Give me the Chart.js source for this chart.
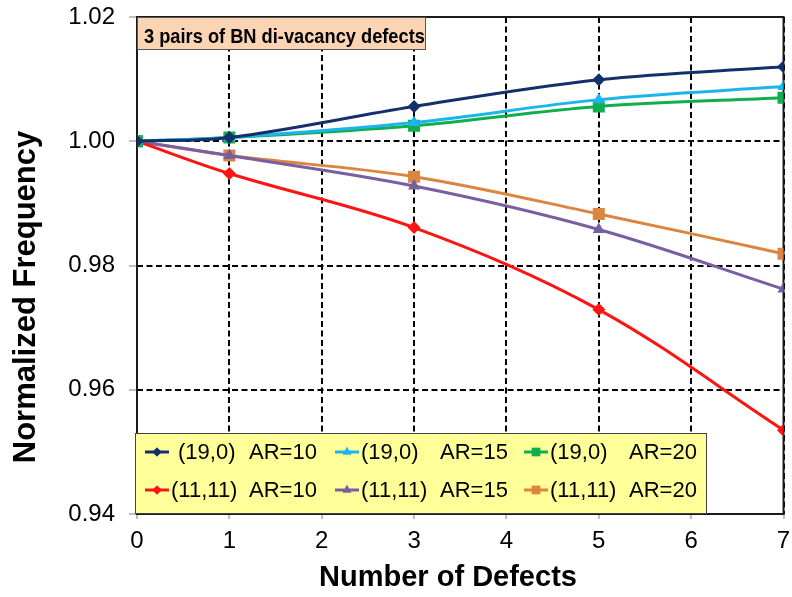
<!DOCTYPE html>
<html>
<head>
<meta charset="utf-8">
<script src="https://cdn.jsdelivr.net/npm/chart.js@4.4.1/dist/chart.umd.min.js"></script>
<style>
  html, body { margin: 0; padding: 0; background: #fff; }
  #wrap { width: 792px; height: 597px; }
</style>
</head>
<body>
<div id="wrap"><canvas id="freqChart" width="792" height="597"></canvas></div>
<script>
// number of defects sampled
const defects = [0, 1, 3, 5, 7];

// normalized frequency per tube / aspect ratio
const zigzagAR10 = [1.0000, 1.0006, 1.0056, 1.0099, 1.0120];
const zigzagAR15 = [1.0000, 1.0006, 1.0030, 1.0067, 1.0088];
const zigzagAR20 = [1.0000, 1.0006, 1.0025, 1.0056, 1.0070];
const armchairAR10 = [1.0000, 0.9948, 0.9861, 0.9729, 0.9535];
const armchairAR15 = [1.0000, 0.9977, 0.9928, 0.9858, 0.9762];
const armchairAR20 = [1.0000, 0.9977, 0.9943, 0.9883, 0.9819];

const seriesLabels = [
  "(19,0) AR=10", "(19,0) AR=15", "(19,0) AR=20",
  "(11,11) AR=10", "(11,11) AR=15", "(11,11) AR=20"
];
const yTicks = [0.94, 0.96, 0.98, 1.00, 1.02];
const xTicks = [0, 1, 2, 3, 4, 5, 6, 7];

const captionText = "3 pairs of BN di-vacancy defects";
const xTitle = "Number of Defects";
const yTitle = "Normalized Frequency";

const FONT = "'Liberation Sans', Arial, sans-serif";

function pts(values) {
  return values.map((v, i) => ({ x: defects[i], y: v }));
}

function series(label, values, color, style, radius) {
  return {
    label,
    data: pts(values),
    borderColor: color,
    backgroundColor: color,
    borderWidth: 3,
    pointStyle: style,
    pointRadius: radius,
    pointHoverRadius: radius,
    pointBorderWidth: 0,
    tension: 0.35
  };
}

// frame, caption, axis titles and legend box
const boxes = {
  id: "boxes",
  beforeDatasetsDraw(chart) {
    const { ctx, chartArea: a } = chart;
    ctx.save();
    ctx.strokeStyle = "#1a1a1a";
    ctx.lineWidth = 2;
    ctx.strokeRect(a.left, a.top, a.right - a.left, a.bottom - a.top);
    ctx.restore();
  },
  afterDraw(chart) {
    const { ctx, chartArea: a } = chart;
    ctx.save();

    // axis titles
    ctx.fillStyle = "#000";
    ctx.textAlign = "center";
    ctx.textBaseline = "middle";
    ctx.font = "bold 29px " + FONT;
    ctx.fillText(xTitle, 448, 578);
    ctx.save();
    ctx.translate(26, 297);
    ctx.rotate(-Math.PI / 2);
    ctx.font = "bold 31px " + FONT;
    ctx.fillText(yTitle, 0, 0);
    ctx.restore();

    // caption
    ctx.fillStyle = "#fbd4b4";
    ctx.fillRect(a.left, a.top, 288, 32);
    ctx.strokeStyle = "#555";
    ctx.lineWidth = 1;
    ctx.strokeRect(a.left + 0.5, a.top + 0.5, 288, 32);
    ctx.save();
    ctx.translate(a.left + 7, a.top + 26);
    ctx.scale(0.89, 1);
    ctx.fillStyle = "#000";
    ctx.textAlign = "left";
    ctx.textBaseline = "alphabetic";
    ctx.font = "bold 20.5px " + FONT;
    ctx.fillText(captionText, 0, 0);
    ctx.restore();

    // legend
    const lx = a.left - 2, ly = a.bottom - 81, lw = 571, lh = 80;
    ctx.fillStyle = "#ffff99";
    ctx.fillRect(lx, ly, lw, lh);
    ctx.strokeStyle = "#444";
    ctx.lineWidth = 1;
    ctx.strokeRect(lx + 0.5, ly + 0.5, lw, lh);

    const markX = [145, 335, 524];
    const tubeX = [[178, 361, 550], [171, 361, 550]];
    const arX = [249, 440, 629];
    const rowY = [452, 490];
    ctx.font = "22px " + FONT;
    ctx.textAlign = "left";
    ctx.textBaseline = "middle";
    chart.data.datasets.forEach((ds, i) => {
      const c = i % 3, r = Math.floor(i / 3);
      const x = markX[c], y = rowY[r];
      ctx.strokeStyle = ds.borderColor;
      ctx.lineWidth = 3;
      ctx.beginPath();
      ctx.moveTo(x, y);
      ctx.lineTo(x + 24, y);
      ctx.stroke();
      ctx.fillStyle = ds.borderColor;
      Chart.helpers.drawPoint(ctx, {
        pointStyle: ds.pointStyle, radius: ds.pointRadius * 0.7, borderWidth: 0, rotation: 0
      }, x + 12, y);
      ctx.fill();
      const [tube, ar] = ds.label.split(" ");
      ctx.fillStyle = "#000";
      ctx.fillText(tube, tubeX[r][c], y + 1);
      ctx.fillText(ar, arX[c], y + 1);
    });
    ctx.restore();
  }
};

new Chart(document.getElementById("freqChart"), {
  type: "line",
  data: {
    datasets: [
      series(seriesLabels[0], zigzagAR10, "#14306c", "rectRot", 6.5),
      series(seriesLabels[1], zigzagAR15, "#1cb4ec", "triangle", 7),
      series(seriesLabels[2], zigzagAR20, "#10ae4c", "rect", 8.5),
      series(seriesLabels[3], armchairAR10, "#ff1414", "rectRot", 6.5),
      series(seriesLabels[4], armchairAR15, "#7a5fa0", "triangle", 7),
      series(seriesLabels[5], armchairAR20, "#dc8540", "rect", 8.5)
    ]
  },
  options: {
    responsive: false,
    animation: false,
    devicePixelRatio: 1,
    layout: { padding: { top: 17, right: 7, left: 0, bottom: 0 } },
    plugins: {
      legend: { display: false },
      tooltip: { enabled: false }
    },
    scales: {
      x: {
        type: "linear",
        min: 0,
        max: 7,
        afterBuildTicks(scale) { scale.ticks = xTicks.map(v => ({ value: v })); },
        afterFit(scale) {
          scale.height = 83;
          scale.paddingLeft = 0;
          scale.paddingRight = 0;
        },
        grid: {
          color: "#000",
          lineWidth: 2,
          tickColor: "#aaa",
          tickWidth: 1.5,
          tickLength: 5,
          tickBorderDash: []
        },
        border: { display: false, dash: [6, 3.5] },
        ticks: { color: "#000", font: { family: FONT, size: 24 }, padding: 8 }
      },
      y: {
        min: 0.94,
        max: 1.02,
        afterBuildTicks(scale) { scale.ticks = yTicks.map(v => ({ value: v })); },
        afterFit(scale) {
          scale.width = 137;
          scale.paddingTop = 0;
          scale.paddingBottom = 0;
        },
        grid: {
          color: "#000",
          lineWidth: 2,
          tickColor: "#aaa",
          tickWidth: 1.5,
          tickLength: 8,
          tickBorderDash: []
        },
        border: { display: false, dash: [6, 3.5] },
        ticks: {
          color: "#000",
          font: { family: FONT, size: 24 },
          padding: 14,
          callback: v => v.toFixed(2)
        }
      }
    }
  },
  plugins: [boxes]
});
</script>
</body>
</html>
